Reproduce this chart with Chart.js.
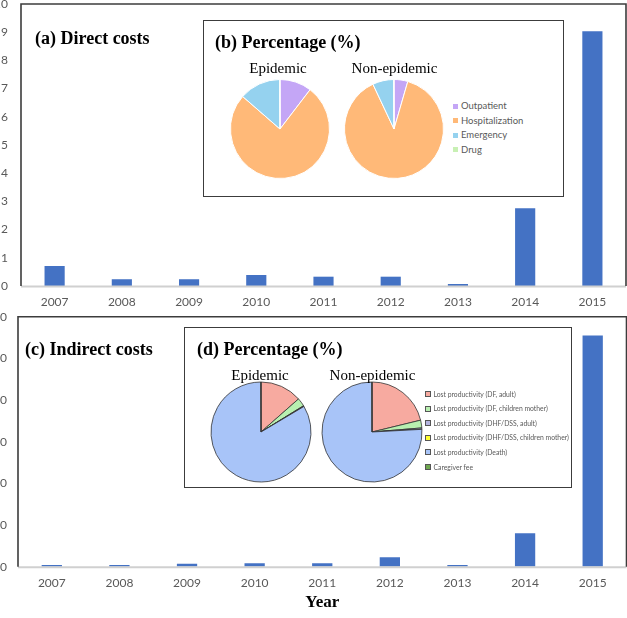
<!DOCTYPE html>
<html>
<head>
<meta charset="utf-8">
<script src="https://cdn.jsdelivr.net/npm/chart.js@4.4.1/dist/chart.umd.min.js"></script>
<style>
  html, body { margin:0; padding:0; background:#fff; }
  #wrap { position:relative; width:627px; height:618px; overflow:hidden; background:#fff; }
  canvas, .abs { position:absolute; }
  .box { position:absolute; box-sizing:border-box; border:1.5px solid #3c3c3c; background:#fff; }
  .t { position:absolute; white-space:nowrap; color:#000; }
  .serifb { font-family:"Liberation Serif","DejaVu Serif",serif; font-weight:bold; }
  .serif { font-family:"Liberation Serif","DejaVu Serif",serif; }
  .leg { position:absolute; font-family:Lato,"Open Sans",sans-serif; color:#595959; white-space:nowrap; }
  .sq { position:absolute; box-sizing:border-box; }
</style>
</head>
<body>
<div id="wrap">
  <canvas id="top" width="627" height="312" style="left:0;top:0;width:627px;height:312px"></canvas>
  <canvas id="bot" width="627" height="306" style="left:0;top:312px;width:627px;height:306px"></canvas>
  <div class="box" style="left:203px;top:20px;width:361px;height:177px"></div>
  <div class="box" style="left:184px;top:327px;width:388px;height:161px"></div>
  <canvas id="pb1" width="104" height="104" style="left:228px;top:77px;width:104px;height:104px"></canvas>
  <canvas id="pb2" width="104" height="104" style="left:342px;top:77px;width:104px;height:104px"></canvas>
  <canvas id="pd1" width="106" height="106" style="left:208px;top:379px;width:106px;height:106px"></canvas>
  <canvas id="pd2" width="106" height="106" style="left:319px;top:379px;width:106px;height:106px"></canvas>
</div>
<script>
// ---- data ----
const years = ['2007','2008','2009','2010','2011','2012','2013','2014','2015'];
const directCosts = [0.71, 0.24, 0.24, 0.39, 0.33, 0.33, 0.07, 2.76, 9.03];
const indirectCosts = [0.4, 0.4, 0.7, 0.8, 0.8, 2.25, 0.4, 8.0, 55.5];
const directTicks = [0,1,2,3,4,5,6,7,8,9,10];
const indirectTicks = [0,10,20,30,40,50,60];

const directLabels = ['Outpatient','Hospitalization','Emergency','Drug'];
const directEpidemic = [10.4, 76.0, 13.5, 0.1];
const directNonEpidemic = [4.5, 88.5, 6.9, 0.1];

const indirectLabels = ['Lost productivity (DF, adult)','Lost productivity (DF, children mother)','Lost productivity (DHF/DSS, adult)','Lost productivity (DHF/DSS, children mother)','Lost productivity (Death)','Caregiver fee'];
const indirectEpidemic = [13.5, 2.7, 0.2, 0.05, 83.5, 0.05];
const indirectNonEpidemic = [21.2, 2.5, 0.4, 0.05, 75.8, 0.05];

const textItems = [
  {txt:'(a) Direct costs', x:35, y:37.5, fs:18, cls:'serifb'},
  {txt:'(b) Percentage (%)', x:215, y:42, fs:18, cls:'serifb'},
  {txt:'Epidemic', x:278, y:68, fs:15, cls:'serif', c:true},
  {txt:'Non-epidemic', x:394.5, y:68, fs:15, cls:'serif', c:true},
  {txt:'(c) Indirect costs', x:25, y:348.5, fs:18, cls:'serifb'},
  {txt:'(d) Percentage (%)', x:197, y:348.5, fs:18, cls:'serifb'},
  {txt:'Epidemic', x:260, y:375, fs:15, cls:'serif', c:true},
  {txt:'Non-epidemic', x:372.5, y:375, fs:15, cls:'serif', c:true}
];

// ---- styles ----
const barColor = '#4472C4';
const directColors = ['#C4A6F6','#FFB978','#95D2EF','#C8F0B4'];
const indirectColors = ['#F7AAA0','#B8F0B0','#B4B4E0','#FFFF33','#A8C4F8','#6FA84F'];

Chart.defaults.animation = false;
Chart.defaults.font.family = 'Lato, "Open Sans", sans-serif';

const wrap = document.getElementById('wrap');
textItems.forEach(o => {
  const d = document.createElement('div');
  d.className = 't ' + o.cls;
  d.textContent = o.txt;
  d.style.fontSize = o.fs + 'px';
  d.style.lineHeight = o.fs + 'px';
  d.style.top = (o.y - o.fs/2) + 'px';
  d.style.left = o.x + 'px';
  if (o.c) d.style.transform = 'translateX(-50%)';
  wrap.appendChild(d);
});

function legend(labels, colors, x, y0, dy, fs, sq, border) {
  labels.forEach((l, i) => {
    const cy = y0 + i*dy;
    const s = document.createElement('div');
    s.className = 'sq';
    s.style.left = x + 'px'; s.style.top = (cy - sq/2) + 'px';
    s.style.width = sq + 'px'; s.style.height = sq + 'px';
    s.style.background = colors[i];
    if (border) s.style.border = '1px solid #555';
    wrap.appendChild(s);
    const t = document.createElement('div');
    t.className = 'leg';
    t.textContent = l;
    t.style.fontSize = fs + 'px';
    t.style.lineHeight = fs + 'px';
    t.style.left = (x + sq + 3) + 'px';
    t.style.top = (cy - fs/2) + 'px';
    wrap.appendChild(t);
  });
}
legend(directLabels, directColors, 453, 106, 14.6, 9.5, 5, false);
legend(indirectLabels, indirectColors, 424.5, 394, 14.6, 6.8, 6, true);

const framePlugin = {
  id: 'frame',
  afterDraw(chart) {
    const {ctx, chartArea:a} = chart;
    ctx.save();
    ctx.strokeStyle = '#d0d0d0';
    ctx.lineWidth = 2;
    ctx.beginPath(); ctx.moveTo(a.left, a.bottom + 0.5); ctx.lineTo(a.right, a.bottom + 0.5); ctx.stroke();
    ctx.strokeStyle = '#3c3c3c';
    ctx.lineWidth = 1.6;
    ctx.beginPath();
    ctx.moveTo(a.left, a.bottom); ctx.lineTo(a.left, a.top); ctx.lineTo(a.right, a.top); ctx.lineTo(a.right, a.bottom);
    ctx.stroke();
    ctx.restore();
  }
};

function barChart(id, values, ticks, yw, ypad, xh, padTop, padRight, withTitle) {
  return new Chart(document.getElementById(id), {
    type: 'bar',
    data: { labels: years, datasets: [{ data: values, backgroundColor: barColor, borderWidth: 0, barPercentage: 0.3, categoryPercentage: 1 }] },
    options: {
      responsive: false,
      maintainAspectRatio: false,
      layout: { padding: { top: padTop, right: padRight, left: 0, bottom: 0 } },
      plugins: { legend: { display: false }, tooltip: { enabled: false } },
      scales: {
        x: {
          grid: { display: false, drawTicks: false },
          border: { display: false },
          ticks: { color: '#595959', font: { size: 12 }, padding: 9 },
          title: withTitle ? { display: true, text: 'Year', color: '#000', font: { family: '"Liberation Serif", serif', weight: 'bold', size: 17 }, padding: { top: 0, bottom: 5 } } : { display: false },
          afterFit: s => { s.height = xh; s.paddingLeft = 0; s.paddingRight = 0; }
        },
        y: {
          min: ticks[0], max: ticks[ticks.length-1],
          grid: { display: false, drawTicks: false },
          border: { display: false },
          afterBuildTicks: s => { s.ticks = ticks.map(v => ({ value: v })); },
          ticks: { color: '#595959', font: { size: 12 }, padding: ypad },
          afterFit: s => { s.width = yw; s.paddingTop = 0; s.paddingBottom = 0; }
        }
      }
    },
    plugins: [framePlugin]
  });
}

barChart('top', directCosts, directTicks, 21, 13, 26, 4, 1, false);
barChart('bot', indirectCosts, indirectTicks, 18, 11, 51.3, 4.7, 0.5, true);

function pie(id, labels, values, colors, r, bc, bw) {
  return new Chart(document.getElementById(id), {
    type: 'pie',
    data: { labels: labels, datasets: [{ data: values, backgroundColor: colors, borderColor: bc, borderWidth: bw }] },
    options: {
      responsive: false, maintainAspectRatio: false,
      radius: r,
      layout: { padding: 0 },
      plugins: { legend: { display: false }, tooltip: { enabled: false } }
    }
  });
}
pie('pb1', directLabels, directEpidemic, directColors, 49.5, '#ffffff', 1);
pie('pb2', directLabels, directNonEpidemic, directColors, 49.5, '#ffffff', 1);
pie('pd1', indirectLabels, indirectEpidemic, indirectColors, 50, '#333333', 0.8);
pie('pd2', indirectLabels, indirectNonEpidemic, indirectColors, 50, '#333333', 0.8);
</script>
</body>
</html>
